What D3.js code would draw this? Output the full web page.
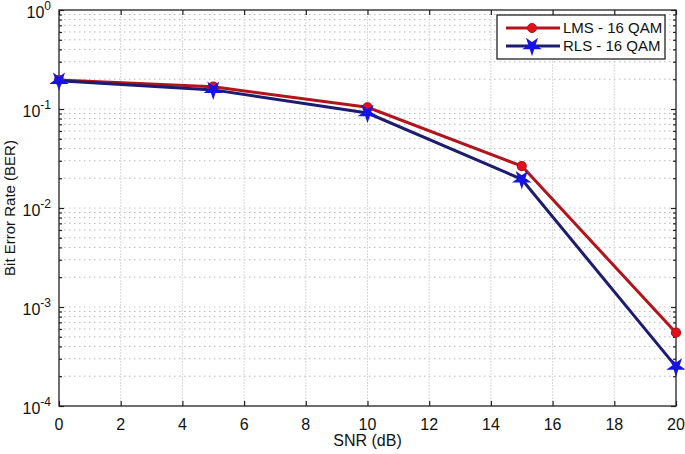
<!DOCTYPE html>
<html><head><meta charset="utf-8">
<script src="https://cdn.jsdelivr.net/npm/d3@7"></script>
<style>body{margin:0;background:#fff;} svg{display:block;font-family:"Liberation Sans",Arial,sans-serif;}</style>
</head><body>
<svg id="c" width="685" height="454"></svg>
<script>
const snr = [0, 5, 10, 15, 20];
const lmsBER = [0.196, 0.168, 0.104, 0.0265, 5.5e-4];
const rlsBER = [0.193, 0.156, 0.091, 0.0195, 2.5e-4];
const xTicks = [0,2,4,6,8,10,12,14,16,18,20];
const yDecades = [0,-1,-2,-3,-4];
const seriesNames = ["LMS - 16 QAM", "RLS - 16 QAM"];

const svg = d3.select("#c");
const L = 59, R = 676, T = 10, B = 406;
const x = d3.scaleLinear().domain([0,20]).range([L,R]);
const y = d3.scaleLog().domain([1e-4,1]).range([B,T]);

// grid
const g = svg.append("g");
const minorVals = [];
for (let e=-4; e<0; e++) for (let m=2; m<=9; m++) minorVals.push(m*Math.pow(10,e));
g.selectAll(".hm").data(minorVals).enter().append("line")
  .attr("x1",L).attr("x2",R).attr("y1",d=>y(d)).attr("y2",d=>y(d))
  .attr("stroke","#b8b8b8").attr("stroke-width",1).attr("stroke-dasharray","1.5,3.5");
g.selectAll(".hM").data(yDecades.slice(1,4)).enter().append("line")
  .attr("x1",L).attr("x2",R).attr("y1",d=>y(Math.pow(10,d))).attr("y2",d=>y(Math.pow(10,d)))
  .attr("stroke","#c8c8c8").attr("stroke-width",1).attr("stroke-dasharray","1.5,3.5");
g.selectAll(".v").data(xTicks.slice(1,-1)).enter().append("line")
  .attr("x1",d=>x(d)).attr("x2",d=>x(d)).attr("y1",T).attr("y2",B)
  .attr("stroke","#d8d8d8").attr("stroke-width",1).attr("stroke-dasharray","2,1");

// axes with inward ticks
const ax = svg.append("g");
const xb = d3.axisBottom(x).tickValues(xTicks).tickSizeInner(-5).tickSizeOuter(0).tickFormat("");
const xt = d3.axisTop(x).tickValues(xTicks).tickSizeInner(-5).tickSizeOuter(0).tickFormat("");
ax.append("g").attr("transform",`translate(0,${B})`).call(xb);
ax.append("g").attr("transform",`translate(0,${T})`).call(xt);
const majorY = yDecades.map(d=>Math.pow(10,d));
const yl = d3.axisLeft(y).tickValues(majorY).tickSizeInner(-5).tickSizeOuter(0).tickFormat("");
const yr = d3.axisRight(y).tickValues(majorY).tickSizeInner(-5).tickSizeOuter(0).tickFormat("");
const ylm = d3.axisLeft(y).tickValues(minorVals).tickSizeInner(-3).tickSizeOuter(0).tickFormat("");
const yrm = d3.axisRight(y).tickValues(minorVals).tickSizeInner(-3).tickSizeOuter(0).tickFormat("");
ax.append("g").attr("transform",`translate(${L},0)`).call(yl);
ax.append("g").attr("transform",`translate(${R},0)`).call(yr);
ax.append("g").attr("transform",`translate(${L},0)`).call(ylm);
ax.append("g").attr("transform",`translate(${R},0)`).call(yrm);
ax.selectAll(".domain").remove();
ax.selectAll("line").attr("stroke","#222").attr("stroke-width",1.2);
svg.append("rect").attr("x",L).attr("y",T).attr("width",R-L).attr("height",B-T)
  .attr("fill","none").attr("stroke","#222").attr("stroke-width",1.3);

// tick labels
svg.selectAll(".xl").data(xTicks).enter().append("text")
  .attr("x",d=>x(d)).attr("y",B+24).attr("text-anchor","middle")
  .attr("font-size",16).attr("fill","#111").text(d=>d);
const yt = svg.selectAll(".yl").data(yDecades).enter().append("text")
  .attr("x",L-8).attr("y",d=>y(Math.pow(10,d))+8).attr("text-anchor","end")
  .attr("font-size",16).attr("fill","#111");
yt.append("tspan").text("10");
yt.append("tspan").attr("dy",-8).attr("font-size",12).text(d=>d);

svg.append("text").attr("x",(L+R)/2).attr("y",446).attr("text-anchor","middle")
  .attr("font-size",16).attr("fill","#111").text("SNR (dB)");
svg.append("text").attr("transform",`translate(15,${(T+B)/2}) rotate(-90)`)
  .attr("text-anchor","middle").attr("font-size",15).attr("fill","#111").text("Bit Error Rate (BER)");

// lines
const line = d3.line().x((d,i)=>x(snr[i])).y(d=>y(d));
const lmsLine = "#b3141c", lmsMark = "#e3101a";
const rlsLine = "#1c1c72", rlsMark = "#1414e6";
svg.append("path").datum(lmsBER).attr("d",line).attr("fill","none")
  .attr("stroke",lmsLine).attr("stroke-width",3);
svg.append("path").datum(rlsBER).attr("d",line).attr("fill","none")
  .attr("stroke",rlsLine).attr("stroke-width",3);

const star = d3.symbol().type(d3.symbolStar).size(55);
lmsBER.forEach((v,i)=>{
  svg.append("circle").attr("cx",x(snr[i])).attr("cy",y(v)).attr("r",4.5)
    .attr("fill",lmsMark).attr("stroke","#b8101a").attr("stroke-width",1.2);
});
rlsBER.forEach((v,i)=>{
  svg.append("path").attr("d",star).attr("transform",`translate(${x(snr[i])},${y(v)}) rotate(180)`)
    .attr("fill",rlsMark).attr("stroke",rlsMark).attr("stroke-width",2);
});

// legend
const lg = svg.append("g");
lg.append("rect").attr("x",497).attr("y",15).attr("width",168).attr("height",44)
  .attr("fill","#fff").attr("stroke","#222").attr("stroke-width",1.3);
const rows = [{n:seriesNames[0],c:lmsLine,m:"c"},{n:seriesNames[1],c:rlsLine,m:"s"}];
rows.forEach((r,i)=>{
  const yy = 28 + i*18;
  lg.append("line").attr("x1",506).attr("x2",560).attr("y1",yy).attr("y2",yy)
    .attr("stroke",r.c).attr("stroke-width",3);
  if (r.m==="c") lg.append("circle").attr("cx",532).attr("cy",yy).attr("r",4.5)
    .attr("fill",lmsMark).attr("stroke","#b8101a");
  else lg.append("path").attr("d",star).attr("transform",`translate(532,${yy}) rotate(180)`)
    .attr("fill",rlsMark).attr("stroke",rlsMark).attr("stroke-width",2);
  lg.append("text").attr("x",563).attr("y",yy+5).attr("font-size",15).attr("fill","#111").text(r.n);
});
</script>
</body></html>
